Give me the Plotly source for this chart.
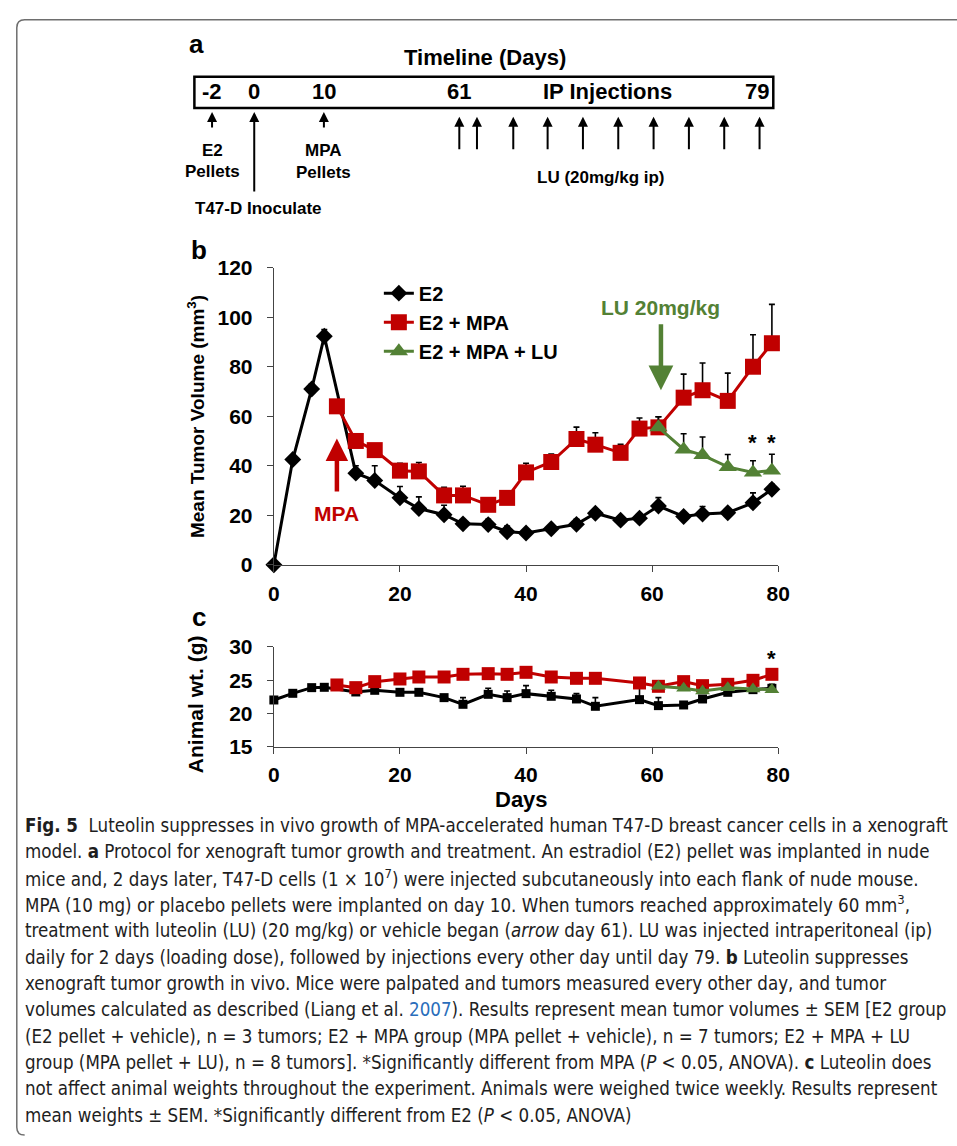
import plotly.graph_objects as go

W, H = 957, 1146

# ---------------- data: panel b (tumor volume, mm^3) ----------------
days_e2 = [0, 3, 6, 8, 13, 16, 20, 23, 27, 30, 34, 37, 40, 44, 48, 51, 55, 58, 61, 65, 68, 72, 76, 79]
vol_e2 = [0, 42.5, 71, 92.3, 37, 34, 27, 22.7, 20.2, 16.5, 16.2, 13.3, 12.8, 14.5, 16.3, 20.8, 18, 18.8, 23.7, 19.5, 20.5, 21, 25, 30.5]
sem_e2 = [0, 0.8, 2, 2.7, 3, 6, 4.6, 4.7, 3.8, 1.3, 2.1, 2.3, 0.8, 1.2, 2, 1.5, 0.8, 1.3, 3.4, 1.5, 3, 1, 4, 2]

days_mpa = [10, 13, 16, 20, 23, 27, 30, 34, 37, 40, 44, 48, 51, 55, 58, 61, 65, 68, 72, 76, 79]
vol_mpa = [64, 50, 46.3, 38, 37.7, 28, 28, 24.2, 27, 37.3, 41.5, 50.8, 48.5, 45.2, 55, 55.5, 67.5, 70.5, 66.2, 80, 89.5]
sem_mpa = [1, 1, 1, 3, 3.6, 3.3, 3.7, 2.3, 2.5, 3.7, 3.2, 4.8, 4.8, 3.5, 4.3, 4.3, 9.5, 11, 11.2, 12.9, 15.7]

days_lu = [61, 65, 68, 72, 76, 79]
vol_lu = [55.5, 46.6, 44.3, 39.5, 37.3, 38.1]
sem_lu = [4.3, 6.3, 7.3, 5, 4.7, 6.5]

# ---------------- data: panel c (animal weight, g) ----------------
wdays_e2 = [0, 3, 6, 8, 13, 16, 20, 23, 27, 30, 34, 37, 40, 44, 48, 51, 58, 61, 65, 68, 72, 76, 79]
wt_e2 = [22.05, 23.05, 23.9, 23.95, 23.25, 23.5, 23.2, 23.2, 22.4, 21.4, 22.9, 22.4, 23, 22.6, 22.2, 21.1, 22.1, 21.2, 21.3, 22.2, 23.2, 23.6, 23.8]
wsem_e2 = [0.3, 0.2, 0.2, 0.2, 0.3, 0.3, 0.2, 0.2, 0.3, 1.0, 0.9, 1.0, 1.2, 0.9, 0.8, 1.3, 1.8, 1.2, 0.3, 0.4, 0.8, 0.3, 0.6]

wdays_mpa = [10, 13, 16, 20, 23, 27, 30, 34, 37, 40, 44, 48, 51, 58, 61, 65, 68, 72, 76, 79]
wt_mpa = [24.3, 23.9, 24.8, 25.2, 25.5, 25.5, 25.9, 26.0, 25.9, 26.2, 25.5, 25.3, 25.3, 24.6, 24.1, 24.8, 24.2, 24.4, 25.0, 25.9]
wsem_mpa = [0.3, 0.3, 0.3, 0.3, 0.3, 0.3, 0.3, 0.3, 0.3, 0.3, 0.3, 0.3, 0.3, 0.3, 0.4, 0.7, 0.6, 0.6, 0.6, 0.4]

wdays_lu = [61, 65, 68, 72, 76, 79]
wt_lu = [24.1, 23.8, 23.4, 23.9, 23.7, 23.6]
wsem_lu = [0.4, 0.3, 0.4, 0.3, 0.3, 0.4]

series_names = ["E2", "E2 + MPA", "E2 + MPA + LU"]
sig_days_b = [76, 79]
sig_days_c = [79]

# ---------------- panel a (protocol schematic) text ----------------
timeline_nums = ["-2", "0", "10", "61", "IP Injections", "79"]
lu_injection_count = 10

# ---------------- caption ----------------
caption_lines = [
    "<b>Fig. 5</b>  Luteolin suppresses in vivo growth of MPA-accelerated human T47-D breast cancer cells in a xenograft",
    "model. <b>a</b> Protocol for xenograft tumor growth and treatment. An estradiol (E2) pellet was implanted in nude",
    "mice and, 2 days later, T47-D cells (1 × 10<sup>7</sup>) were injected subcutaneously into each flank of nude mouse.",
    "MPA (10 mg) or placebo pellets were implanted on day 10. When tumors reached approximately 60 mm<sup>3</sup>,",
    "treatment with luteolin (LU) (20 mg/kg) or vehicle began (<i>arrow</i> day 61). LU was injected intraperitoneal (ip)",
    "daily for 2 days (loading dose), followed by injections every other day until day 79. <b>b</b> Luteolin suppresses",
    "xenograft tumor growth in vivo. Mice were palpated and tumors measured every other day, and tumor",
    "volumes calculated as described (Liang et al. <span style='color:#2a6ebb'>2007</span>). Results represent mean tumor volumes ± SEM [E2 group",
    "(E2 pellet + vehicle), n = 3 tumors; E2 + MPA group (MPA pellet + vehicle), n = 7 tumors; E2 + MPA + LU",
    "group (MPA pellet + LU), n = 8 tumors]. *Significantly different from MPA (<i>P</i> < 0.05, ANOVA). <b>c</b> Luteolin does",
    "not affect animal weights throughout the experiment. Animals were weighed twice weekly. Results represent",
    "mean weights ± SEM. *Significantly different from E2 (<i>P</i> < 0.05, ANOVA)",
]

# ---------------- styling ----------------
BLACK = "#000000"
RED = "#c00000"
GREEN = "#538135"
FONT = "Liberation Sans, Arial, sans-serif"
CAP_FONT = "Liberation Sans Narrow, DejaVu Sans Condensed, sans-serif"


def pxf(x):
    return x / W


def pyf(y):
    return 1 - y / H


def err(vals):
    return dict(type="data", symmetric=False, array=vals, arrayminus=[0] * len(vals),
                color="black", thickness=1.6, width=3)


fig = go.Figure()

# panel b traces
fig.add_trace(go.Scatter(x=days_e2, y=vol_e2, error_y=err(sem_e2), name=series_names[0],
                         mode="lines+markers", line=dict(color=BLACK, width=3),
                         marker=dict(symbol="diamond", size=13, color=BLACK),
                         xaxis="x", yaxis="y", cliponaxis=False, legendgroup="a"))
fig.add_trace(go.Scatter(x=days_mpa, y=vol_mpa, error_y=err(sem_mpa), name=series_names[1],
                         mode="lines+markers", line=dict(color=RED, width=3),
                         marker=dict(symbol="square", size=16, color=RED),
                         xaxis="x", yaxis="y", cliponaxis=False, legendgroup="b"))
fig.add_trace(go.Scatter(x=days_lu, y=vol_lu, error_y=err(sem_lu), name=series_names[2],
                         mode="lines+markers", line=dict(color=GREEN, width=3),
                         marker=dict(symbol="triangle-up", size=16, color=GREEN),
                         xaxis="x", yaxis="y", cliponaxis=False, legendgroup="c"))

# panel c traces
fig.add_trace(go.Scatter(x=wdays_e2, y=wt_e2, error_y=err(wsem_e2), name=series_names[0],
                         mode="lines+markers", line=dict(color=BLACK, width=3),
                         marker=dict(symbol="square", size=9, color=BLACK),
                         xaxis="x2", yaxis="y2", cliponaxis=False, showlegend=False))
fig.add_trace(go.Scatter(x=wdays_mpa, y=wt_mpa, error_y=err(wsem_mpa), name=series_names[1],
                         mode="lines+markers", line=dict(color=RED, width=3),
                         marker=dict(symbol="square", size=13, color=RED),
                         xaxis="x2", yaxis="y2", cliponaxis=False, showlegend=False))
fig.add_trace(go.Scatter(x=wdays_lu, y=wt_lu, error_y=err(wsem_lu), name=series_names[2],
                         mode="lines+markers", line=dict(color=GREEN, width=3),
                         marker=dict(symbol="triangle-up", size=13, color=GREEN),
                         xaxis="x2", yaxis="y2", cliponaxis=False, showlegend=False))

tickfont = dict(family=FONT, size=21, color="black", weight="bold")
axis_common = dict(showline=True, linecolor="#444", linewidth=1.3, ticks="outside", ticklen=6,
                   tickcolor="#444", tickwidth=1.3, showgrid=False, zeroline=False,
                   tickfont=tickfont, fixedrange=True)

fig.update_layout(
    width=W, height=H, margin=dict(l=0, r=0, t=0, b=0),
    paper_bgcolor="white", plot_bgcolor="white",
    xaxis=dict(domain=[pxf(273), pxf(787)], range=[0, 80], tickvals=[0, 20, 40, 60, 80],
               anchor="y", ticklabelstandoff=4, **axis_common),
    yaxis=dict(domain=[pyf(564), pyf(261)], range=[0, 120], tickvals=[0, 20, 40, 60, 80, 100, 120],
               anchor="x", ticklabelstandoff=10, **axis_common),
    xaxis2=dict(domain=[pxf(273), pxf(787)], range=[0, 80], tickvals=[0, 20, 40, 60, 80],
                anchor="y2", ticklabelstandoff=3, **axis_common),
    yaxis2=dict(domain=[pyf(750), pyf(648)], range=[15, 30], tickvals=[15, 20, 25, 30],
                anchor="x2", ticklabelstandoff=10, **axis_common),
    showlegend=True,
    legend=dict(x=pxf(380), y=pyf(267), xanchor="left", yanchor="top",
                font=dict(family=FONT, size=20, color="black", weight="bold"),
                bgcolor="rgba(0,0,0,0)", tracegroupgap=0, itemwidth=30),
)

ann = []
shapes = []


def text(x, y, s, size, color="black", bold=True, xanchor="center", family=FONT, **kw):
    ann.append(dict(x=x, y=y, xref="paper", yref="paper", text=s, showarrow=False,
                    xanchor=xanchor, yanchor="middle",
                    font=dict(family=family, size=size, color=color, weight="bold" if bold else "normal"),
                    **kw))


def arrow(x, y_tail, y_head, width=2, color="black", size=1.0):
    ann.append(dict(x=pxf(x), y=pyf(y_head), ax=0, ay=y_tail - y_head,
                    xref="paper", yref="paper", axref="pixel", ayref="pixel",
                    text="", showarrow=True, arrowhead=2, arrowsize=size,
                    arrowwidth=width, arrowcolor=color))


# outer rounded border (partially visible)
r = 8
x0, y0, yb = 11, 8, 1146
path = (f"M {pxf(W + 20)},{pyf(y0)} L {pxf(x0 + r)},{pyf(y0)} "
        f"Q {pxf(x0)},{pyf(y0)} {pxf(x0)},{pyf(y0 + r)} "
        f"L {pxf(x0)},{pyf(yb - r)} Q {pxf(x0)},{pyf(yb)} {pxf(x0 + r)},{pyf(yb)}")
shapes.append(dict(type="path", path=path, xref="paper", yref="paper",
                   line=dict(color="#6e6e6e", width=1.5)))

# ---------- panel a ----------
text(pxf(194), pyf(33), "a", 26, xanchor="center")
text(pxf(488), pyf(46), "Timeline (Days)", 22)
shapes.append(dict(type="rect", xref="paper", yref="paper", x0=pxf(192), x1=pxf(782),
                   y0=pyf(98), y1=pyf(66), line=dict(color="black", width=2.5)))
num_pos = [210, 253, 324, 462, 613, 765]
for s, xp in zip(timeline_nums, num_pos):
    text(pxf(xp), pyf(81), s, 22)

arrow(210, 119, 102, width=2, size=1.0)
arrow(253, 183, 102, width=2, size=1.0)
arrow(324, 119, 102, width=2, size=1.0)
text(pxf(210), pyf(141), "E2", 17)
text(pxf(210), pyf(163), "Pellets", 17)
text(pxf(324), pyf(141), "MPA", 17)
text(pxf(324), pyf(164), "Pellets", 17)
text(pxf(257), pyf(201), "T47-D Inoculate", 17)

lu_x = [462, 480, 517, 552, 588, 624, 660, 696, 732, 768][:lu_injection_count]
for xp in lu_x:
    arrow(xp, 141, 107, width=2, size=1.0)
text(pxf(606), pyf(169), "LU (20mg/kg ip)", 17)

# ---------- panel b ----------
text(pxf(197), pyf(243), "b", 26)
text(pxf(193), pyf(413), "Mean Tumor Volume (mm<sup>3</sup>)", 19, textangle=-90)
# annotations in data coordinates
ann.append(dict(x=61.4, y=103.8, xref="x", yref="y", text="LU 20mg/kg", showarrow=False,
                font=dict(family=FONT, size=21, color=GREEN, weight="bold")))
ann.append(dict(x=61.4, y=70.5, ax=61.4, ay=97.8, xref="x", yref="y", axref="x", ayref="y",
                text="", showarrow=True, arrowhead=2, arrowsize=1.1, arrowwidth=4.5, arrowcolor=GREEN))
ann.append(dict(x=10, y=51, ax=10, ay=29, xref="x", yref="y", axref="x", ayref="y",
                text="", showarrow=True, arrowhead=2, arrowsize=1.0, arrowwidth=4.5, arrowcolor=RED))
ann.append(dict(x=10, y=20.5, xref="x", yref="y", text="MPA", showarrow=False,
                font=dict(family=FONT, size=21, color=RED, weight="bold")))
for d in sig_days_b:
    ann.append(dict(x=d, y=49.5, xref="x", yref="y", text="*", showarrow=False,
                    font=dict(family=FONT, size=22, color="black", weight="bold")))

# ---------- panel c ----------
text(pxf(197), pyf(617), "c", 26)
text(pxf(193), pyf(706), "Animal wt. (g)", 21, textangle=-90)
text(pxf(525), pyf(804), "Days", 22)
for d in sig_days_c:
    ann.append(dict(x=d, y=28.3, xref="x2", yref="y2", text="*", showarrow=False,
                    font=dict(family=FONT, size=22, color="black", weight="bold")))

# ---------- caption ----------
for i, line in enumerate(caption_lines):
    ann.append(dict(x=pxf(17), y=pyf(830 + i * 26.9), xref="paper", yref="paper", text=line,
                    showarrow=False, xanchor="left", yanchor="middle",
                    font=dict(family=CAP_FONT, size=18.6, color="#1e1e1e")))

fig.update_layout(annotations=ann, shapes=shapes)
fig.write_html("out.html")
